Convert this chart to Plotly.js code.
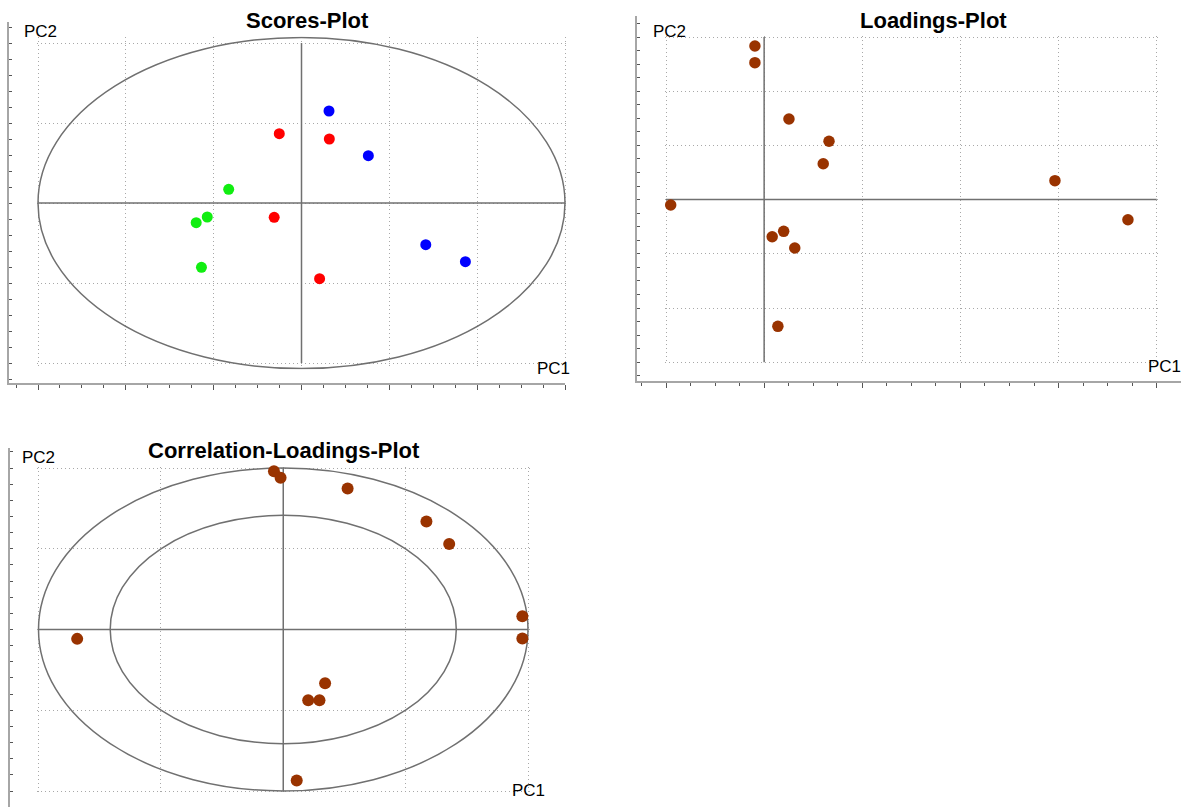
<!DOCTYPE html>
<html><head><meta charset="utf-8">
<script src="https://cdn.plot.ly/plotly-3.0.1.min.js"></script>
<style>html,body{margin:0;padding:0;background:#fff;}#chart{width:1181px;height:807px;}</style>
</head><body><div id="chart"></div>
<script>
// ---------- data ----------
const panelTitles = ['Scores-Plot', 'Loadings-Plot', 'Correlation-Loadings-Plot'];
const axisNames = ['PC1', 'PC2'];

const scoresRedPC1   = [-0.253, 0.317, -0.311, 0.206];
const scoresRedPC2   = [0.866, 0.800, -0.179, -0.946];
const scoresBluePC1  = [0.313, 0.761, 1.415, 1.866];
const scoresBluePC2  = [1.150, 0.591, -0.521, -0.734];
const scoresGreenPC1 = [-0.829, -1.199, -1.073, -1.139];
const scoresGreenPC2 = [0.171, -0.246, -0.175, -0.804];

const loadingsPC1 = [-0.094, -0.094, 0.253, 0.661, 0.602, 2.963, -0.952, 3.707, 0.082, 0.199, 0.312, 0.140];
const loadingsPC2 = [2.834, 2.526, 1.487, 1.076, 0.662, 0.349, -0.100, -0.371, -0.685, -0.585, -0.893, -2.338];

const corrPC1 = [-0.038, -0.011, 0.263, 0.585, 0.678, 0.977, 0.977, -0.842, 0.171, 0.102, 0.148, 0.055];
const corrPC2 = [0.980, 0.939, 0.873, 0.669, 0.530, 0.082, -0.056, -0.058, -0.333, -0.438, -0.438, -0.935];

const scoresRangePC1 = [-3, 3], scoresRangePC2 = [-2, 2];
const scoresEllipse = [3, 2.07];
const loadingsRangePC1 = [-1, 4], loadingsRangePC2 = [-3, 3];
const corrRange = [-1, 1];
const corrEllipses = [1, 0.707];

// ---------- layout helpers ----------
const W = 1181, H = 807;
const fx = p => p / W;
const fy = p => 1 - p / H;
const GRID = '#a8a8a8', CROSS = '#707070', FRAME = '#a6a6a6', TICK = '#555555';
const FONT = 'Liberation Sans, Arial, sans-serif';
const PADPX = 1.5;

function tickList(r, step) {
  const out = [];
  const n = Math.round((r[1] - r[0]) / step);
  for (let i = 0; i <= n; i++) out.push(+(r[0] + i * step).toFixed(6));
  return out;
}

const layout = {
  width: W, height: H, margin: {l: 0, r: 0, t: 0, b: 0},
  paper_bgcolor: '#fff', plot_bgcolor: 'rgba(0,0,0,0)',
  showlegend: false, font: {family: FONT, color: '#000'},
  shapes: [], annotations: []
};
const traces = [];

function addPanel(k, o) {
  const mx = 'x' + (2 * k + 1), my = 'y' + (2 * k + 1);
  const frx = 'x' + (2 * k + 2), fry = 'y' + (2 * k + 2);
  const key = s => s === 'x1' ? 'xaxis' : s === 'y1' ? 'yaxis' : (s[0] + 'axis' + s.slice(1));
  const ref = s => s === 'x1' ? 'x' : s === 'y1' ? 'y' : s;
  const b = o.box, f = o.frame;
  const xu = (b.r - b.l) / (o.xr[1] - o.xr[0]);
  const yu = (b.b - b.t) / (o.yr[1] - o.yr[0]);
  const yp = Math.max(o.ypad || 0, PADPX / yu);
  const xp = PADPX / xu;
  layout[key(mx)] = {
    domain: [fx(b.l - xp * xu), fx(b.r + xp * xu)], range: [o.xr[0] - xp, o.xr[1] + xp], anchor: ref(my),
    tickmode: 'array', tickvals: tickList(o.xr, o.xstep),
    showgrid: true, griddash: '1px,3px', gridcolor: GRID, gridwidth: 1,
    zeroline: false, showline: false, showticklabels: false, ticks: '', fixedrange: true
  };
  layout[key(my)] = {
    domain: [fy(b.b + yp * yu), fy(b.t - yp * yu)], range: [o.yr[0] - yp, o.yr[1] + yp], anchor: ref(mx),
    tickmode: 'array', tickvals: tickList(o.yr, o.ystep),
    showgrid: true, griddash: '1px,3px', gridcolor: GRID, gridwidth: 1,
    zeroline: false, showline: false, showticklabels: false, ticks: '', fixedrange: true
  };
  // outer frame axes (L-shaped), aligned with the inner scale
  layout[key(frx)] = {
    domain: [fx(f.l), fx(f.r)],
    range: [o.xr[0] - (b.l - f.l) / xu, o.xr[1] + (f.r - b.r) / xu], anchor: ref(fry),
    showline: o.bottomLine, linecolor: FRAME, linewidth: 2,
    ticks: o.bottomLine ? 'outside' : '', ticklen: 5, tickwidth: 1, tickcolor: TICK,
    tick0: 0, dtick: o.xstep,
    minor: {ticks: o.bottomLine ? 'outside' : '', ticklen: 3, tickwidth: 1, tickcolor: TICK, dtick: o.xstep / 4, showgrid: false},
    showgrid: false, zeroline: false, showticklabels: false, fixedrange: true
  };
  layout[key(fry)] = {
    domain: [fy(f.b), fy(f.t)],
    range: [o.yr[0] - (f.b - b.b) / yu, o.yr[1] + (b.t - f.t) / yu], anchor: ref(frx),
    showline: true, linecolor: FRAME, linewidth: 2,
    ticks: 'inside', ticklen: 3, tickwidth: 1, tickcolor: TICK, tick0: 0, dtick: o.yminor,
    showgrid: false, zeroline: false, showticklabels: false, fixedrange: true
  };
  traces.push({x: [], y: [], type: 'scatter', mode: 'markers', xaxis: ref(frx), yaxis: ref(fry), hoverinfo: 'skip'});

  // ellipses
  (o.ellipses || []).forEach(e => {
    layout.shapes.push({type: 'circle', xref: ref(mx), yref: ref(my), x0: -e[0], x1: e[0], y0: -e[1], y1: e[1],
      line: {color: CROSS, width: 1.5}, layer: 'between'});
  });
  // cross lines through the origin
  layout.shapes.push({type: 'line', xref: ref(mx), yref: ref(my), x0: 0, x1: 0, y0: o.yr[0], y1: o.yr[1],
    line: {color: CROSS, width: 1.5}, layer: 'between'});
  layout.shapes.push({type: 'line', xref: ref(mx), yref: ref(my), x0: o.xr[0], x1: o.xr[1], y0: 0, y1: 0,
    line: {color: CROSS, width: 1.5}, layer: 'between'});

  // series
  o.series.forEach(s => traces.push({
    x: s.x, y: s.y, type: 'scatter', mode: 'markers', xaxis: ref(mx), yaxis: ref(my),
    marker: {color: s.color, size: o.msize, line: {width: 0}}, cliponaxis: false, hoverinfo: 'x+y'
  }));

  // texts
  layout.annotations.push({text: '<b>' + o.title + '</b>', xref: 'paper', yref: 'paper', x: fx(o.titlePos[0]), y: fy(o.titlePos[1]),
    xanchor: 'center', yanchor: 'middle', showarrow: false, font: {size: 22, family: FONT, color: '#000'}});
  layout.annotations.push({text: axisNames[1], xref: 'paper', yref: 'paper', x: fx(o.pc2Pos[0]), y: fy(o.pc2Pos[1]),
    xanchor: 'left', yanchor: 'middle', showarrow: false, font: {size: 17, family: FONT, color: '#000'}});
  layout.annotations.push({text: axisNames[0], xref: 'paper', yref: 'paper', x: fx(o.pc1Pos[0]), y: fy(o.pc1Pos[1]),
    xanchor: 'left', yanchor: 'middle', showarrow: false, font: {size: 17, family: FONT, color: '#000'}});
}

addPanel(0, {
  title: panelTitles[0], box: {l: 38, r: 565, t: 43, b: 363}, frame: {l: 9, r: 565, t: 22, b: 383},
  xr: scoresRangePC1, yr: scoresRangePC2, xstep: 1, ystep: 1, ypad: 0.08, yminor: 0.2, bottomLine: true,
  ellipses: [scoresEllipse], msize: 11,
  series: [
    {x: scoresRedPC1, y: scoresRedPC2, color: '#ff0000'},
    {x: scoresBluePC1, y: scoresBluePC2, color: '#0000ff'},
    {x: scoresGreenPC1, y: scoresGreenPC2, color: '#11ee11'}
  ],
  titlePos: [307, 20], pc2Pos: [22, 31], pc1Pos: [535, 368]
});

addPanel(1, {
  title: panelTitles[1], box: {l: 666, r: 1156.7, t: 37, b: 362.2}, frame: {l: 637, r: 1181, t: 16, b: 381},
  xr: loadingsRangePC1, yr: loadingsRangePC2, xstep: 1, ystep: 1, yminor: 0.25, bottomLine: true,
  ellipses: [], msize: 11.5,
  series: [{x: loadingsPC1, y: loadingsPC2, color: '#993300'}],
  titlePos: [933, 20], pc2Pos: [651, 31], pc1Pos: [1146, 366]
});

addPanel(2, {
  title: panelTitles[2], box: {l: 38.5, r: 528, t: 468, b: 791}, frame: {l: 9.6, r: 528, t: 448, b: 807},
  xr: corrRange, yr: corrRange, xstep: 0.5, ystep: 0.5, yminor: 0.1, bottomLine: false,
  ellipses: [[corrEllipses[0], corrEllipses[0]], [corrEllipses[1], corrEllipses[1]]], msize: 12,
  series: [{x: corrPC1, y: corrPC2, color: '#993300'}],
  titlePos: [283.5, 450], pc2Pos: [20, 457], pc1Pos: [510, 790]
});

Plotly.newPlot('chart', traces, layout, {displayModeBar: false, staticPlot: true});
</script></body></html>
